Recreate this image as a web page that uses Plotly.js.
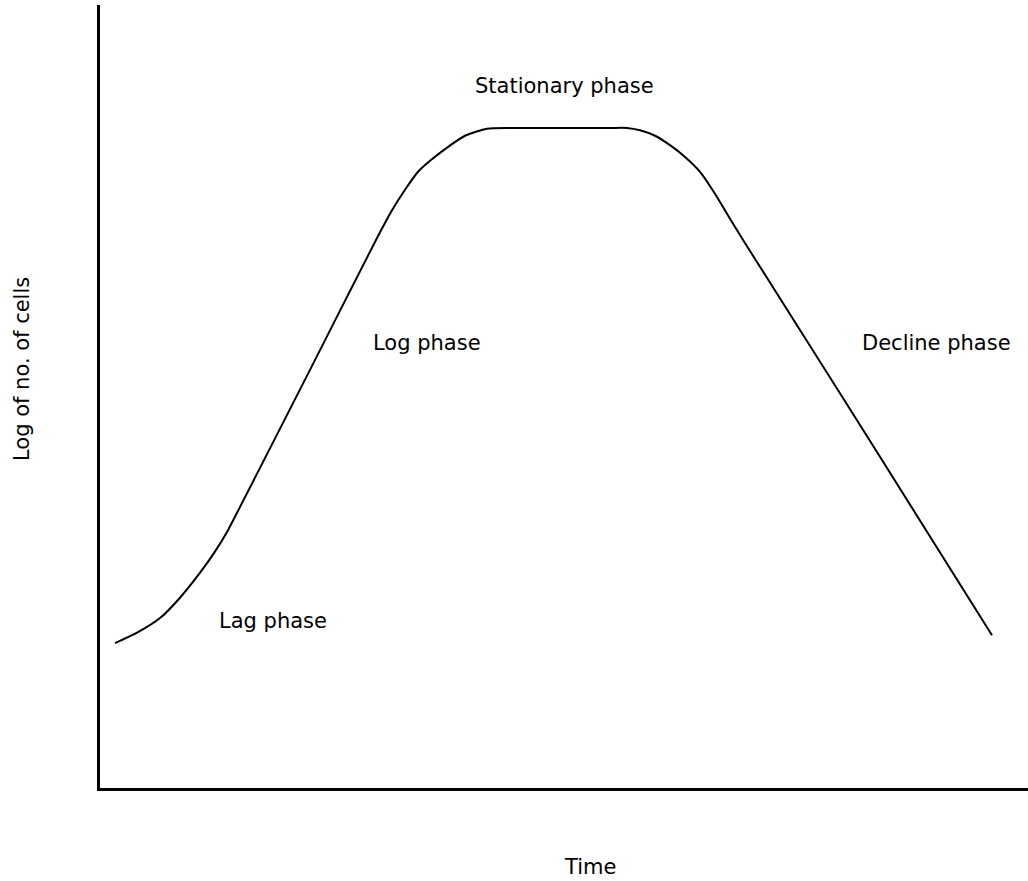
<!DOCTYPE html>
<html>
<head>
<meta charset="utf-8">
<script src="https://cdn.plot.ly/plotly-3.0.1.min.js"></script>
<style>
  html, body { margin: 0; padding: 0; background: #fff; }
  #chart { width: 1028px; height: 881px; }
</style>
</head>
<body>
<div id="chart"></div>
<script>
// Growth curve (time in arbitrary units 0-100, log of cell number 0-10)
const time = [1.62, 4.09, 6.47, 8.62, 10.78, 12.28, 13.69, 15.09, 22.63, 29.96, 31.47, 32.87, 34.27, 35.56, 37.18, 39.33, 41.70, 44.18, 48.00, 52.00, 55.00, 56.79, 58.19, 59.81, 61.42, 63.04, 64.66, 66.27, 67.89, 69.50, 75.43, 84.05, 96.12];
const logCells = [1.85, 1.99, 2.17, 2.43, 2.75, 3.00, 3.27, 3.59, 5.34, 7.05, 7.38, 7.64, 7.87, 8.01, 8.16, 8.33, 8.42, 8.43, 8.43, 8.43, 8.43, 8.43, 8.40, 8.33, 8.21, 8.06, 7.87, 7.59, 7.27, 6.96, 5.85, 4.23, 1.95];

// Phase labels
const phaseLabels = ["Stationary phase", "Log phase", "Decline phase", "Lag phase"];
const phaseX = [50.1, 35.2, 90.1, 18.6];
const phaseY = [8.97, 5.68, 5.68, 2.13];

const xTitle = "Time";
const yTitle = "Log of no. of cells";

const font = { family: "DejaVu Sans, sans-serif", size: 21, color: "#000" };

const trace = {
  x: time,
  y: logCells,
  type: "scatter",
  mode: "lines",
  line: { color: "#000", width: 2, shape: "spline", smoothing: 0.6 },
  hoverinfo: "skip",
  showlegend: false
};

const annotations = phaseLabels.map((t, i) => ({
  x: phaseX[i], y: phaseY[i], xref: "x", yref: "y",
  text: t, showarrow: false, font: font,
  xanchor: "center", yanchor: "middle"
}));

const L = 100, R = 0, T = 5, B = 93, W = 1028, H = 881;
const pw = W - L - R, ph = H - T - B;

annotations.push({
  x: (590 - L) / pw, y: (H - B - 867) / ph, xref: "paper", yref: "paper",
  text: xTitle, showarrow: false, font: font, xanchor: "center", yanchor: "middle"
});
annotations.push({
  x: (22 - L) / pw, y: (H - B - 369) / ph, xref: "paper", yref: "paper",
  text: yTitle, showarrow: false, font: font, textangle: -90, xanchor: "center", yanchor: "middle"
});

const layout = {
  width: W, height: H,
  margin: { l: L, r: R, t: T, b: B, pad: 0 },
  paper_bgcolor: "#fff",
  plot_bgcolor: "#fff",
  xaxis: {
    range: [0, 100], showline: true, linecolor: "#000", linewidth: 3,
    showgrid: false, zeroline: false, showticklabels: false, ticks: "", fixedrange: true
  },
  yaxis: {
    range: [0, 10], showline: true, linecolor: "#000", linewidth: 3,
    showgrid: false, zeroline: false, showticklabels: false, ticks: "", fixedrange: true
  },
  annotations: annotations,
  showlegend: false
};

Plotly.newPlot("chart", [trace], layout, { displayModeBar: false, staticPlot: true });
</script>
</body>
</html>
